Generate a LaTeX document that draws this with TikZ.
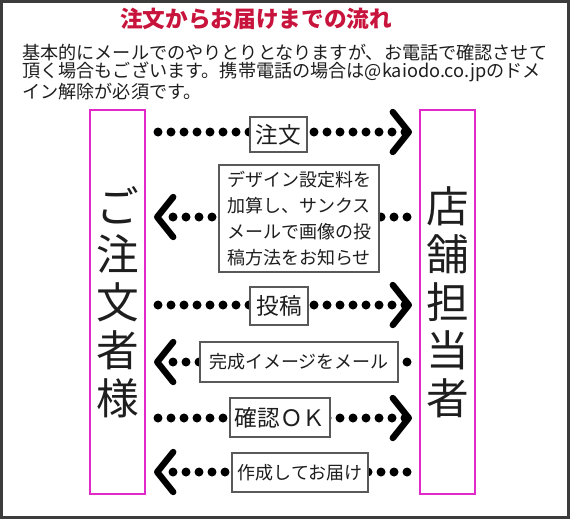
\documentclass[tikz,border=0pt]{standalone}
\usepackage{fontspec}
\setmainfont{Noto Sans CJK JP}
\usetikzlibrary{arrows.meta}
\definecolor{titlered}{RGB}{200,20,60}
\definecolor{boxpink}{RGB}{225,40,200}
\definecolor{framegray}{RGB}{60,60,60}
\definecolor{ink}{RGB}{30,30,30}

\begin{document}
\begin{tikzpicture}[x=0.75pt,y=-0.75pt,
  party/.style={draw=boxpink,line width=1.5pt,minimum width=41.25pt,minimum height=288pt,
    inner sep=0pt,align=center,text=ink,font=\fontsize{32}{36}\selectfont},
  lab/.style={draw=gray!70!black,line width=0.9pt,fill=white,inner sep=0pt,text=ink},
  labbig/.style={lab,font=\fontsize{17}{17}\selectfont},
  labsmall/.style={lab,font=\fontsize{13.5}{13.5}\selectfont},
  dotline/.style={draw=black,line width=6.75pt,line cap=round,dash pattern=on 0pt off 9.75pt},
  toshop/.style={dotline,-{Straight Barb[round,length=12pt,width=30pt,line width=4.8pt]},
    shorten <=9pt,shorten >=5.25pt},
  tocust/.style={dotline,-{Straight Barb[round,length=12pt,width=30pt,line width=4.8pt]},
    shorten <=9pt,shorten >=6pt}]
\useasboundingbox (0,0) rectangle (570,519);
\draw[framegray,line width=2.25pt] (1.5,1.5) rectangle (568.5,517);

% heading
\node[text=titlered,font=\fontsize{17}{17}\selectfont\bfseries] (title) at (256,19) {注文からお届けまでの流れ};
\node[anchor=west,align=left,inner sep=0pt,text=ink,font=\fontsize{13.6}{13.9}\selectfont] (intro) at (22,72)
 {基本的にメールでのやりとりとなりますが、お電話で確認させて\\
  頂く場合もございます。携帯電話の場合は@kaiodo.co.jpのドメ\\
  イン解除が必須です。};

% the two parties
\node[party] (cust) at (117.5,302) {ご\\注\\文\\者\\様};
\node[party] (shop) at (447.5,302) {店\\舗\\担\\当\\者};

% rows
\coordinate (r1) at (0,132);
\coordinate (r2) at (0,217);
\coordinate (r3) at (0,305);
\coordinate (r4) at (0,362);
\coordinate (r5) at (0,418);
\coordinate (r6) at (0,472);

\draw[toshop] (cust.east |- r1) -- (shop.west |- r1);
\draw[tocust] (shop.west |- r2) -- (cust.east |- r2);
\draw[toshop] (cust.east |- r3) -- (shop.west |- r3);
\draw[tocust] (shop.west |- r4) -- (cust.east |- r4);
\draw[toshop] (cust.east |- r5) -- (shop.west |- r5);
\draw[tocust] (shop.west |- r6) -- (cust.east |- r6);

\node[labbig,minimum width=42.75pt,minimum height=26.25pt] (order) at (278.5,134.5) {注文};
\node[labsmall,align=center,minimum width=120pt,minimum height=80.25pt,
  font=\fontsize{13.5}{19.5}\selectfont] (notice) at (299,218.5)
 {デザイン設定料を\\加算し、サンクス\\メールで画像の投\\稿方法をお知らせ};
\node[labbig,minimum width=43.5pt,minimum height=28.5pt] (upload) at (279,306) {投稿};
\node[labsmall,minimum width=148.5pt,minimum height=30pt] (proof) at (299,362) {完成イメージをメール};
\node[labbig,minimum width=75pt,minimum height=29.25pt] (okay) at (280,417.5) {確認ＯＫ};
\node[labsmall,minimum width=102pt,minimum height=29.25pt] (deliver) at (300,472.5) {作成してお届け};
\end{tikzpicture}
\end{document}
